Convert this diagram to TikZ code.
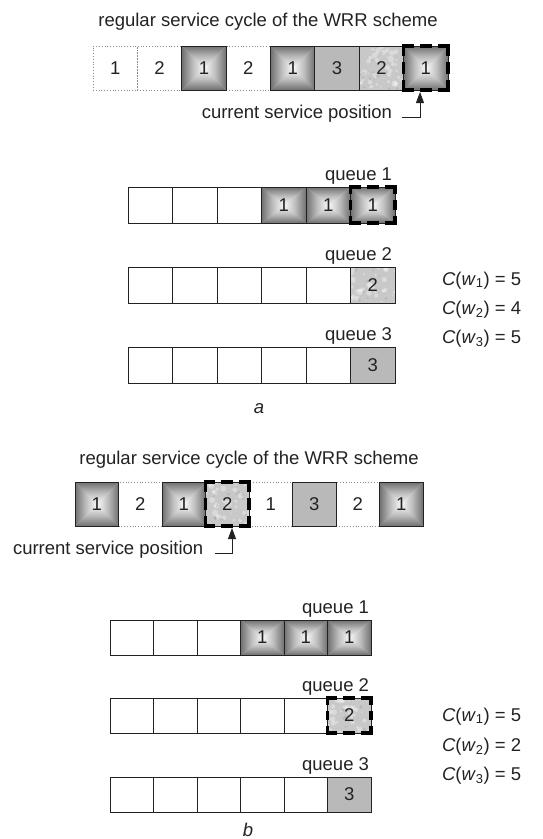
\documentclass[tikz,border=0pt]{standalone}
\usepackage{fontspec}
\setmainfont{Liberation Sans}
\usetikzlibrary{arrows.meta}

\definecolor{ink}{HTML}{222222}
\definecolor{pyredge}{HTML}{707070}
\definecolor{pyrhalf}{HTML}{BEBEBE}
\definecolor{pyrmid}{HTML}{FAFAFA}
\definecolor{flatgray}{HTML}{B9B9B9}
\definecolor{mottle}{HTML}{C8C8C8}
\definecolor{dotline}{HTML}{8A8A8A}

\newcommand\figfont{\fontsize{18.5}{22}\selectfont}

% thick dashed frame marking the current service position
% #1 node, #2 width, #3 height (pt)
\newcommand\curframe[3]{%
  \pgfmathsetmacro\dwx{(#2+3.4-12)/3}%
  \pgfmathsetmacro\dwy{(#3+3.4-12)/3}%
  \draw[curdash, dash pattern=on \dwx pt off 6pt] ([xshift=-1.7pt]#1.north west) -- ([xshift=1.7pt]#1.north east);
  \draw[curdash, dash pattern=on \dwx pt off 6pt] ([xshift=-1.7pt]#1.south west) -- ([xshift=1.7pt]#1.south east);
  \draw[curdash, dash pattern=on \dwy pt off 6pt] ([yshift=1.7pt]#1.north west) -- ([yshift=-1.7pt]#1.south west);
  \draw[curdash, dash pattern=on \dwy pt off 6pt] ([yshift=1.7pt]#1.north east) -- ([yshift=-1.7pt]#1.south east);
}

\tikzset{
  lbl/.style={font=\figfont, text=ink, inner sep=0pt, outer sep=0pt},
  cell/.style={draw=ink, line width=1pt, inner sep=0pt, outer sep=0pt,
    font=\figfont, text=ink},
  dotcell/.style={cell, draw=dotline, line width=0.8pt, dotted},
  flat/.style={cell, fill=flatgray},
  pyr/.style={cell, path picture={
    \fill[pyrhalf] (path picture bounding box.north west) rectangle (path picture bounding box.south east);
    \shade[top color=pyredge, bottom color=pyrmid, middle color=pyrhalf]
      (path picture bounding box.north west) -- (path picture bounding box.north east)
      -- (path picture bounding box.center) -- cycle;
    \shade[top color=pyrmid, bottom color=pyredge, middle color=pyrhalf]
      (path picture bounding box.south west) -- (path picture bounding box.south east)
      -- (path picture bounding box.center) -- cycle;
    \shade[left color=pyredge, right color=pyrmid, middle color=pyrhalf]
      (path picture bounding box.north west) -- (path picture bounding box.south west)
      -- (path picture bounding box.center) -- cycle;
    \shade[left color=pyrmid, right color=pyredge, middle color=pyrhalf]
      (path picture bounding box.north east) -- (path picture bounding box.south east)
      -- (path picture bounding box.center) -- cycle;
  }},
  mottled/.style={cell, fill=mottle, path picture={
    \foreach \k in {1,...,45}{
      \fill[white, opacity=0.33]
        ([shift={({rnd*46},{rnd*46})}]path picture bounding box.north west)
        circle[radius={0.8+2.4*rnd}];
    }
    \foreach \k in {1,...,14}{
      \fill[black, opacity=0.08]
        ([shift={({rnd*46},{rnd*46})}]path picture bounding box.north west)
        circle[radius={0.6+1.4*rnd}];
    }
  }},
  curdash/.style={draw=black, line width=3.4pt, line cap=butt},
  arr/.style={draw=ink, line width=0.9pt, -{Triangle[length=11pt, width=8pt]}},
}

\begin{document}
\pgfmathsetseed{11}
\begin{tikzpicture}[x=1pt, y=-1pt]
\useasboundingbox (0,0) rectangle (543,839);

% ================= part a =================
\node[lbl, anchor=base] (ta) at (268,26) {regular service cycle of the WRR scheme};

% service cycle
\begin{scope}[every node/.append style={minimum width=44.4pt, minimum height=44pt}]
  \node[dotcell] (ca1) at (115.19,68) {1};
  \node[dotcell] (ca2) at (159.56,68) {2};
  \node[dotcell] (ca4) at (248.31,68) {2};
  \node[pyr]     (ca3) at (203.94,68) {1};
  \node[pyr]     (ca5) at (292.69,68) {1};
  \node[flat]    (ca6) at (337.06,68) {3};
  \node[mottled] (ca7) at (381.44,68) {2};
  \node[pyr]     (ca8) at (425.81,68) {1};
\end{scope}
\curframe{ca8}{44.4}{44}

\node[lbl, anchor=base east] (csa) at (392,118) {current service position};
\coordinate (ka) at (420,117);
\coordinate (tipa) at (ka |- ca8.south);
\draw[arr] ([xshift=10pt, yshift=1pt]csa.base east) -- (ka) -- ([yshift=-2pt]tipa);

% queues
\begin{scope}[every node/.append style={minimum width=44.5pt, minimum height=36pt}]
  \foreach \i in {1,2,3} \node[cell] (qa1c\i) at ({128+44.5*(\i-0.5)},205) {};
  \node[pyr] (qa1c4) at (283.75,205) {1};
  \node[pyr] (qa1c5) at (328.25,205) {1};
  \node[pyr] (qa1c6) at (372.75,205) {1};
  \foreach \i in {1,...,5} \node[cell] (qa2c\i) at ({128+44.5*(\i-0.5)},285) {};
  \node[mottled] (qa2c6) at (372.75,285) {2};
  \foreach \i in {1,...,5} \node[cell] (qa3c\i) at ({128+44.5*(\i-0.5)},365) {};
  \node[flat] (qa3c6) at (372.75,365) {3};
\end{scope}
\curframe{qa1c6}{44.5}{36}

\node[lbl, anchor=base east] (qla1) at (392,180) {queue 1};
\node[lbl, anchor=base east] (qla2) at (392,260) {queue 2};
\node[lbl, anchor=base east] (qla3) at (392,340) {queue 3};

\node[lbl, anchor=base west] (wa1) at (442,285) {\textit{C}(\textit{w}\textsubscript{1}) = 5};
\node[lbl, anchor=base west] (wa2) at (442,314) {\textit{C}(\textit{w}\textsubscript{2}) = 4};
\node[lbl, anchor=base west] (wa3) at (442,343) {\textit{C}(\textit{w}\textsubscript{3}) = 5};

\node[lbl, anchor=base] (capa) at (259,413) {\textit{a}};

% ================= part b =================
\node[lbl, anchor=base] (tb) at (249,464) {regular service cycle of the WRR scheme};

\begin{scope}[every node/.append style={minimum width=43.5pt, minimum height=44pt}]
  \node[dotcell] (cb2) at (140.25,504) {2};
  \node[dotcell] (cb5) at (270.75,504) {1};
  \node[dotcell] (cb7) at (357.75,504) {2};
  \node[pyr]     (cb1) at (96.75,504) {1};
  \node[pyr]     (cb3) at (183.75,504) {1};
  \node[mottled] (cb4) at (227.25,504) {2};
  \node[flat]    (cb6) at (314.25,504) {3};
  \node[pyr]     (cb8) at (401.25,504) {1};
\end{scope}
\curframe{cb4}{43.5}{44}

\node[lbl, anchor=base west] (csb) at (13,554) {current service position};
\coordinate (kb) at (232,553);
\coordinate (tipb) at (kb |- cb4.south);
\draw[arr] ([xshift=12pt, yshift=1pt]csb.base east) -- (kb) -- ([yshift=-2pt]tipb);

\begin{scope}[every node/.append style={minimum width=43.5pt, minimum height=35pt}]
  \foreach \i in {1,2,3} \node[cell] (qb1c\i) at ({110+43.5*(\i-0.5)},637.5) {};
  \node[pyr] (qb1c4) at (262.25,637.5) {1};
  \node[pyr] (qb1c5) at (305.75,637.5) {1};
  \node[pyr] (qb1c6) at (349.25,637.5) {1};
  \foreach \i in {1,...,5} \node[cell] (qb2c\i) at ({110+43.5*(\i-0.5)},715.5) {};
  \node[mottled] (qb2c6) at (349.25,715.5) {2};
  \foreach \i in {1,...,5} \node[cell] (qb3c\i) at ({110+43.5*(\i-0.5)},794.5) {};
  \node[flat] (qb3c6) at (349.25,794.5) {3};
\end{scope}
\curframe{qb2c6}{43.5}{35}

\node[lbl, anchor=base east] (qlb1) at (369,613) {queue 1};
\node[lbl, anchor=base east] (qlb2) at (369,691) {queue 2};
\node[lbl, anchor=base east] (qlb3) at (369,770) {queue 3};

\node[lbl, anchor=base west] (wb1) at (442,721) {\textit{C}(\textit{w}\textsubscript{1}) = 5};
\node[lbl, anchor=base west] (wb2) at (442,751) {\textit{C}(\textit{w}\textsubscript{2}) = 2};
\node[lbl, anchor=base west] (wb3) at (442,780) {\textit{C}(\textit{w}\textsubscript{3}) = 5};

\node[lbl, anchor=base] (capb) at (248,836) {\textit{b}};
\end{tikzpicture}
\end{document}
